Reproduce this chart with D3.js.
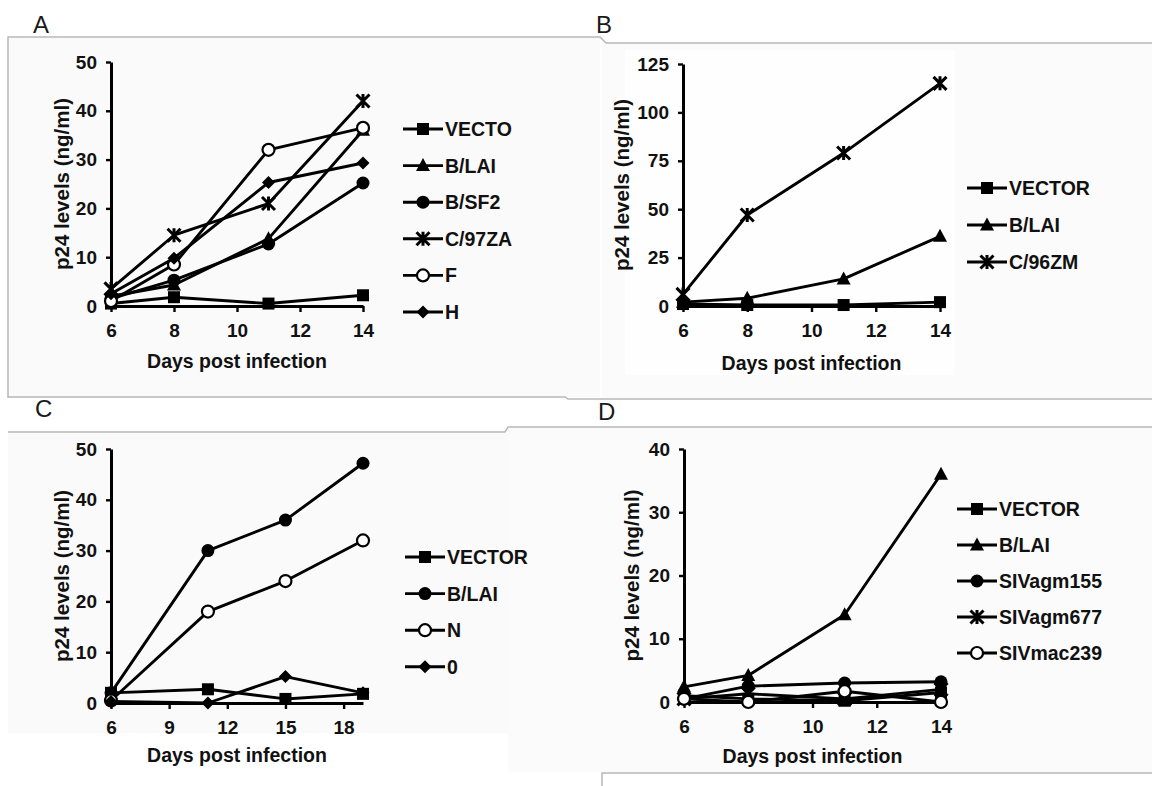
<!DOCTYPE html>
<html>
<head>
<meta charset="utf-8">
<script src="https://cdn.jsdelivr.net/npm/d3@7/dist/d3.min.js"></script>
<style>
body{margin:0;background:#fff}
svg{display:block}
text{font-family:"Liberation Sans",Arial,Helvetica,sans-serif}
</style>
</head>
<body>
<svg id="fig" width="1152" height="786"></svg>
<script>
// ---- data ----
var daysABD = [6, 8, 11, 14];
var daysC = [6, 11, 15, 19];

// panel A
var vectoA = [0.5, 1.8, 0.5, 2.2];
var blaiA = [2, 4.3, 13.8, 36];
var bsf2A = [1.5, 5.3, 12.7, 25.2];
var c97zaA = [3.5, 14.5, 21, 42];
var fA = [1, 8.5, 32, 36.5];
var hA = [2.5, 9.8, 25.3, 29.3];

// panel B
var vectorB = [1, 0.5, 0.5, 2];
var blaiB = [2, 4, 14, 36];
var c96zmB = [6, 47, 79, 115];

// panel C
var vectorC = [2, 2.7, 0.8, 1.8];
var blaiC = [2, 30, 36, 47.2];
var nC = [0.5, 18, 24, 32];
var zeroC = [0.3, 0, 5.2, 2];

// panel D
var vectorD = [1, 0.5, 0.2, 1.5];
var blaiD = [2.4, 4.2, 13.8, 36];
var agm155D = [0.5, 2.5, 3, 3.2];
var agm677D = [0.5, 1.3, 0.5, 2];
var mac239D = [0.5, 0, 1.7, 0];

var ticksXABD = [6, 8, 10, 12, 14];
var ticksXC = [6, 9, 12, 15, 18];
var ticksY50 = [0, 10, 20, 30, 40, 50];
var ticksY125 = [0, 25, 50, 75, 100, 125];
var ticksY40 = [0, 10, 20, 30, 40];

var svg = d3.select('#fig');

// ---- backgrounds / frame lines of the scanned panels ----
var bg = svg.append('g');
bg.append('rect').attr('x',8).attr('y',38).attr('width',592).attr('height',359).attr('fill','#fafafa');
bg.append('rect').attr('x',602).attr('y',44).attr('width',550).attr('height',354).attr('fill','#fbfbfb');
bg.append('rect').attr('x',8).attr('y',433).attr('width',500).attr('height',300).attr('fill','#fafafa');
bg.append('rect').attr('x',508).attr('y',428).attr('width',644).attr('height',344).attr('fill','#fbfbfb');
bg.append('rect').attr('x',625).attr('y',50).attr('width',330).attr('height',325).attr('fill','#fefefe');

var frame = [
	[[8,398],[8,37],[600,37],[606,43],[1152,43]],
	[[8,397],[565,397],[568,399],[1152,399]],
	[[8,432],[505,432],[508,427],[1152,427]],
	[[1152,773],[602,773],[602,786]]
];
bg.selectAll('path.frame').data(frame).enter().append('path')
	.attr('class','frame')
	.attr('d',d3.line())
	.attr('fill','none')
	.attr('stroke','#b8b8b8')
	.attr('stroke-width',1.5);

// ---- markers ----
function drawMarker(g, type, cx, cy){
	var m;
	if(type=='square'){
		m = g.append('rect').attr('x',cx-6).attr('y',cy-6).attr('width',12).attr('height',12).attr('fill','#000');
	}else if(type=='triangle'){
		m = g.append('path').attr('d','M'+cx+','+(cy-7.5)+'L'+(cx+7)+','+(cy+5.5)+'L'+(cx-7)+','+(cy+5.5)+'Z').attr('fill','#000');
	}else if(type=='dot'){
		m = g.append('circle').attr('cx',cx).attr('cy',cy).attr('r',6.5).attr('fill','#000');
	}else if(type=='ring'){
		m = g.append('circle').attr('cx',cx).attr('cy',cy).attr('r',6).attr('fill','#fff').attr('stroke','#000').attr('stroke-width',2.2);
	}else if(type=='diamond'){
		m = g.append('path').attr('d','M'+cx+','+(cy-6.5)+'L'+(cx+6.5)+','+cy+'L'+cx+','+(cy+6.5)+'L'+(cx-6.5)+','+cy+'Z').attr('fill','#000');
	}else if(type=='star'){
		m = g.append('path')
			.attr('d','M'+(cx-6.5)+','+(cy-6.5)+'L'+(cx+6.5)+','+(cy+6.5)+'M'+(cx-6.5)+','+(cy+6.5)+'L'+(cx+6.5)+','+(cy-6.5)+'M'+cx+','+(cy-7)+'L'+cx+','+(cy+7))
			.attr('fill','none').attr('stroke','#000').attr('stroke-width',3);
	}
	return m;
}

// ---- one panel ----
function drawPanel(p){
	var x = d3.scaleLinear().domain(p.xDomain).range([p.left, p.right]);
	var y = d3.scaleLinear().domain([0, p.yMax]).range([p.bottom, p.top]);
	var g = svg.append('g');

	// panel letter
	svg.append('text').attr('x',p.letterX).attr('y',p.letterY)
		.attr('font-size',24).attr('fill','#1a1a1a')
		.text(p.letter);

	var xAxis = d3.axisBottom(x).tickValues(p.xTicks).tickSize(6).tickPadding(12).tickSizeOuter(0);
	var yAxis = d3.axisLeft(y).tickValues(p.yTicks).tickSize(5).tickPadding(9).tickSizeOuter(0);

	var gx = g.append('g').attr('transform','translate(0,'+p.bottom+')').call(xAxis);
	var gy = g.append('g').attr('transform','translate('+p.left+',0)').call(yAxis);
	[gx, gy].forEach(function(a){
		a.select('.domain').attr('stroke','#000').attr('stroke-width',3);
		a.selectAll('.tick line').attr('stroke','#000').attr('stroke-width',2.4);
		a.selectAll('.tick text').attr('fill','#111').attr('font-size',19).attr('font-weight','bold')
			.style('font-family','"Liberation Sans",Arial,sans-serif');
	});

	// axis titles
	g.append('text').attr('x',(p.left+p.right)/2).attr('y',p.xTitleY)
		.attr('text-anchor','middle').attr('font-size',19.5).attr('font-weight','bold').attr('fill','#111')
		.text('Days post infection');
	g.append('text').attr('transform','translate('+p.yTitleX+','+((p.top+p.bottom)/2)+') rotate(-90)')
		.attr('text-anchor','middle').attr('dy','0.35em').attr('font-size',20.5).attr('font-weight','bold').attr('fill','#111')
		.text('p24 levels (ng/ml)');

	var line = d3.line()
		.x(function(d,i){return x(p.days[i]);})
		.y(function(d){return y(d);});

	p.series.forEach(function(s){
		var sg = g.append('g');
		sg.append('path').datum(s.values)
			.attr('d',line)
			.attr('fill','none')
			.attr('stroke','#000')
			.attr('stroke-width',2.9)
			.attr('stroke-linejoin','round');
		s.values.forEach(function(v,i){
			drawMarker(sg, s.marker, x(p.days[i]), y(v));
		});
	});

	// legend
	var lg = g.append('g');
	p.series.forEach(function(s,i){
		var ly = p.legendY + i*p.legendStep;
		lg.append('line').attr('x1',p.legendX).attr('x2',p.legendX+40)
			.attr('y1',ly).attr('y2',ly).attr('stroke','#000').attr('stroke-width',2.9);
		drawMarker(lg, s.marker, p.legendX+20, ly);
		lg.append('text').attr('x',p.legendX+42).attr('y',ly).attr('dy','0.36em')
			.attr('font-size',19.5).attr('font-weight','bold').attr('fill','#111').text(s.name);
	});
}

drawPanel({
	letter:'A', letterX:33, letterY:33,
	left:111, right:363, top:62, bottom:306,
	xDomain:[6,14], xTicks:ticksXABD, yMax:50, yTicks:ticksY50,
	xTitleY:368, yTitleX:62,
	legendX:403, legendY:129, legendStep:36.6,
	days:daysABD,
	series:[
		{name:'VECTO', marker:'square', values:vectoA},
		{name:'B/LAI', marker:'triangle', values:blaiA},
		{name:'B/SF2', marker:'dot', values:bsf2A},
		{name:'C/97ZA', marker:'star', values:c97zaA},
		{name:'F', marker:'ring', values:fA},
		{name:'H', marker:'diamond', values:hA}
	]
});

drawPanel({
	letter:'B', letterX:596, letterY:33,
	left:683, right:940, top:64, bottom:306,
	xDomain:[6,14], xTicks:ticksXABD, yMax:125, yTicks:ticksY125,
	xTitleY:370, yTitleX:622,
	legendX:967, legendY:188, legendStep:37,
	days:daysABD,
	series:[
		{name:'VECTOR', marker:'square', values:vectorB},
		{name:'B/LAI', marker:'triangle', values:blaiB},
		{name:'C/96ZM', marker:'star', values:c96zmB}
	]
});

drawPanel({
	letter:'C', letterX:35, letterY:417,
	left:111, right:363, top:449, bottom:703,
	xDomain:[6,19], xTicks:ticksXC, yMax:50, yTicks:ticksY50,
	xTitleY:762, yTitleX:62,
	legendX:405, legendY:557, legendStep:36.6,
	days:daysC,
	series:[
		{name:'VECTOR', marker:'square', values:vectorC},
		{name:'B/LAI', marker:'dot', values:blaiC},
		{name:'N', marker:'ring', values:nC},
		{name:'0', marker:'diamond', values:zeroC}
	]
});

drawPanel({
	letter:'D', letterX:598, letterY:420,
	left:684, right:941, top:449, bottom:702,
	xDomain:[6,14], xTicks:ticksXABD, yMax:40, yTicks:ticksY40,
	xTitleY:763, yTitleX:632,
	legendX:957, legendY:509, legendStep:36,
	days:daysABD,
	series:[
		{name:'VECTOR', marker:'square', values:vectorD},
		{name:'B/LAI', marker:'triangle', values:blaiD},
		{name:'SIVagm155', marker:'dot', values:agm155D},
		{name:'SIVagm677', marker:'star', values:agm677D},
		{name:'SIVmac239', marker:'ring', values:mac239D}
	]
});
</script>
</body>
</html>
